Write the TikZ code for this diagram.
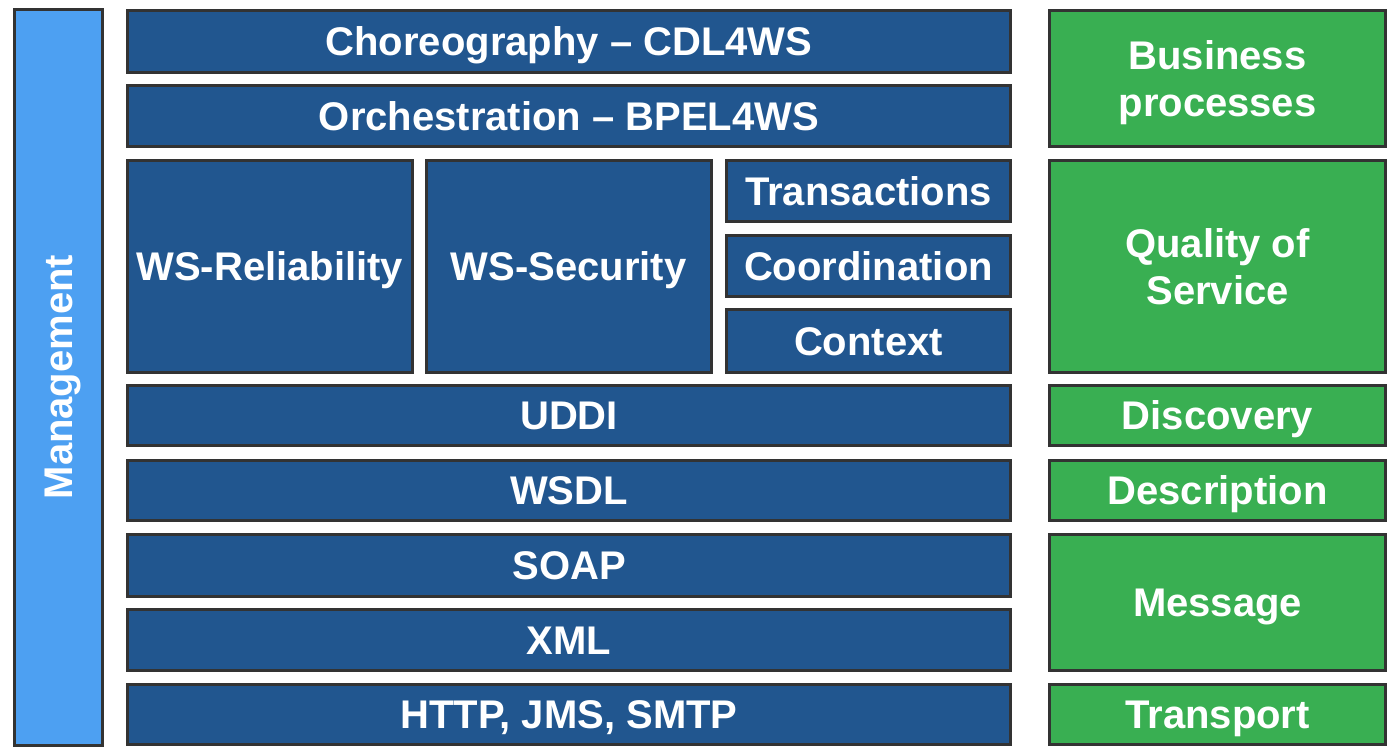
\documentclass[tikz,border=0pt]{standalone}
\usepackage{fontspec}
\setmainfont{Liberation Sans}
\definecolor{layerblue}{RGB}{33,86,143}
\definecolor{mgmtblue}{RGB}{77,160,242}
\definecolor{qosgreen}{RGB}{57,175,82}
\definecolor{edgegray}{RGB}{51,51,51}
\tikzset{
  boxbase/.style={draw=edgegray, line width=3pt, fill=layerblue, text=white,
    font=\fontsize{40}{47}\selectfont\bfseries, align=center, inner sep=0pt},
  layer/.style={boxbase, text height=28.6pt, text depth=0pt},
  aspect/.style={layer, fill=qosgreen},
  aspecttwo/.style={boxbase, fill=qosgreen},
  boxlabel/.style={text=white, font=\fontsize{40}{47}\selectfont\bfseries,
    align=center, inner sep=0pt},
  mgmt/.style={layer, fill=mgmtblue},
}
% \blk{name}{style}{x1}{y1}{x2}{y2}{text}  (pixel-like units, y downwards)
\newcommand{\blk}[7]{%
  \node[#2, minimum width={(#5-#3)*1pt}, minimum height={(#6-#4)*1pt}]
    (#1) at ({(#3+#5)/2}, {(#4+#6)/2}) {#7};}
\begin{document}
\begin{tikzpicture}[x=1pt, y=-1pt]
\useasboundingbox (0,0) rectangle (1396,753);
% management column
\node[mgmt, minimum width=736pt, minimum height=88pt, rotate=90] (mgmt) at (58.5,377) {Management};
% protocol stack
\blk{chor}{layer}{127.5}{10.5}{1010.5}{72}{Choreography -- CDL4WS}
\blk{orch}{layer}{127.5}{85.5}{1010.5}{146}{Orchestration -- BPEL4WS}
\blk{rel}{layer}{127.5}{160.5}{412}{372}{WS-Reliability}
\blk{sec}{layer}{426.5}{160.5}{711}{372}{WS-Security}
\blk{trans}{layer}{726.5}{160.5}{1010.5}{221}{Transactions}
\blk{coord}{layer}{726.5}{235.5}{1010.5}{296}{Coordination}
\blk{ctx}{layer}{726.5}{309.5}{1010.5}{372}{Context}
\blk{uddi}{layer}{127.5}{385.5}{1010.5}{445}{UDDI}
\blk{wsdl}{layer}{127.5}{460.5}{1010.5}{520}{WSDL}
\blk{soap}{layer}{127.5}{534.5}{1010.5}{596}{SOAP}
\blk{xml}{layer}{127.5}{609.5}{1010.5}{670}{XML}
\blk{http}{layer}{127.5}{684.5}{1010.5}{744}{HTTP, JMS, SMTP}
% aspects
\blk{bp}{aspecttwo}{1049.5}{10.5}{1385.5}{146}{}
\node[boxlabel] (bptext) at ([yshift=-4pt]bp.center) {Business\\processes};
\blk{qos}{aspecttwo}{1049.5}{160.5}{1385.5}{372}{Quality of\\Service}
\blk{disc}{aspect}{1049.5}{385.5}{1385.5}{445}{Discovery}
\blk{desc}{aspect}{1049.5}{460.5}{1385.5}{520}{Description}
\blk{msg}{aspect}{1049.5}{534.5}{1385.5}{670}{Message}
\blk{tran}{aspect}{1049.5}{684.5}{1385.5}{744}{Transport}
\end{tikzpicture}
\end{document}
